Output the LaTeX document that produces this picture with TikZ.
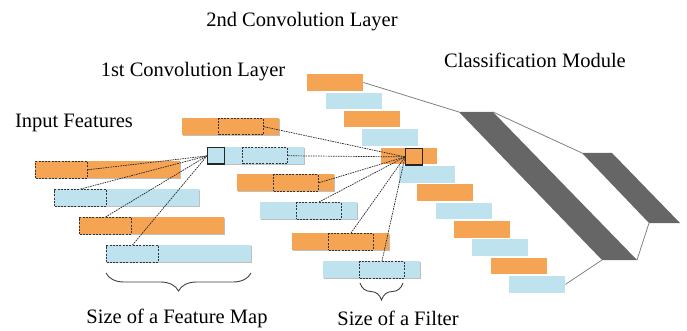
\documentclass[tikz,border=0pt]{standalone}
\usepackage{fontspec}
\setmainfont{Liberation Serif}
\usetikzlibrary{shadows,decorations.pathreplacing}
\definecolor{barorange}{HTML}{F5A454}
\definecolor{barblue}{HTML}{BEE2EE}
\definecolor{darkmod}{HTML}{666666}
\definecolor{linkgray}{HTML}{808080}
\tikzset{
  bar/.style={anchor=north west, inner sep=0pt, minimum height=16.5pt, draw=none},
  bigbar/.style={bar, minimum width=145pt},
  midbar/.style={bar, minimum width=97pt},
  smallbar/.style={bar, minimum width=56pt},
  shad/.style={drop shadow={shadow xshift=1pt, shadow yshift=-1.2pt, opacity=0.25, fill=black}},
  dbox/.style={anchor=north west, inner sep=0pt, minimum height=16.5pt, draw=black!80, line width=1pt, dash pattern=on 2pt off 1.3pt},
  sq/.style={anchor=north west, inner sep=0pt, minimum size=16.5pt, draw=black!85, line width=1.3pt},
  dline/.style={draw=black!85, line width=0.7pt, dash pattern=on 1.6pt off 0.9pt},
  gline/.style={draw=linkgray, line width=0.8pt},
  lbl/.style={font=\rmfamily\fontsize{20.5}{24}\selectfont, anchor=base, inner sep=0pt},
  brc/.style={decorate, draw=black!75, line width=0.9pt}
}
\begin{document}
\begin{tikzpicture}[x=1pt,y=-1pt]
\useasboundingbox (0,0) rectangle (687,331);
% titles
\node[lbl] (t2) at (302,27) {2nd Convolution Layer};
\node[lbl] (t1) at (193,77) {1st Convolution Layer};
\node[lbl] (tin) at (74,128) {Input Features};
\node[lbl] (tcm) at (535,68) {Classification Module};
% input features
\node[bigbar, shad, fill=barorange] (i1) at (35,161) {};
\node[bigbar, shad, fill=barblue] (i2) at (54,189) {};
\node[bigbar, shad, fill=barorange] (i3) at (79,217) {};
\node[bigbar, shad, fill=barblue] (i4) at (106,245) {};
\node[dbox, minimum width=52pt] (d1) at (35,161) {};
\node[dbox, minimum width=52pt] (d2) at (54,189) {};
\node[dbox, minimum width=52pt] (d3) at (79,217) {};
\node[dbox, minimum width=52pt] (d4) at (106,245) {};
% 1st conv layer
\node[midbar, shad, fill=barorange] (c1) at (182,118) {};
\node[midbar, shad, fill=barblue] (c2) at (207,147) {};
\node[midbar, shad, fill=barorange] (c3) at (237,174) {};
\node[midbar, shad, fill=barblue] (c4) at (260,202) {};
\node[midbar, shad, fill=barorange] (c5) at (292,233) {};
\node[midbar, shad, fill=barblue] (c6) at (323,261) {};
\node[dbox, minimum width=45pt] (e1) at (218,118) {};
\node[dbox, minimum width=45pt] (e2) at (242,147) {};
\node[dbox, minimum width=45pt] (e3) at (273,174) {};
\node[dbox, minimum width=45pt] (e4) at (296,202) {};
\node[dbox, minimum width=45pt] (e5) at (328,233) {};
\node[dbox, minimum width=45pt] (e6) at (359,261) {};
\node[sq, fill=barblue] (s1) at (207,147) {};
% 2nd conv layer
\foreach \k in {0,...,11}{
  \pgfmathsetmacro{\xx}{307+18.36*\k}
  \pgfmathsetmacro{\yy}{74+18.36*\k}
  \pgfmathtruncatemacro{\kpar}{mod(\k,2)}
  \ifnum\kpar=0
    \node[smallbar, fill=barorange] (b\k) at (\xx,\yy) {};
  \else
    \node[smallbar, fill=barblue] (b\k) at (\xx,\yy) {};
  \fi
}
\node[sq, fill=barorange] (s2) at (405,148) {};
% dashed connectors
\draw[dline] (d1.east) -- (s1.west);
\draw[dline] (d2.north) -- (s1.west);
\draw[dline] (d3.north) -- (s1.west);
\draw[dline] (d4.north) -- (s1.west);
\draw[dline] (e1.east) -- (s2.west);
\draw[dline] (e2.east) -- (s2.west);
\draw[dline] (e3.east) -- (s2.west);
\draw[dline] (e4.north) -- (s2.west);
\draw[dline] (e5.north) -- (s2.west);
\draw[dline] (e6.north) -- (s2.west);
% classification module
\coordinate (p1a) at (459,112);
\coordinate (p1b) at (493,112);
\coordinate (p1c) at (637,260);
\coordinate (p1d) at (602,260);
\coordinate (p2a) at (582,153);
\coordinate (p2b) at (612,153);
\coordinate (p2c) at (680,223);
\coordinate (p2d) at (649,223);
\fill[darkmod] (p1a) -- (p1b) -- (p1c) -- (p1d) -- cycle;
\fill[darkmod] (p2a) -- (p2b) -- (p2c) -- (p2d) -- cycle;
\draw[gline] (b0.east) -- (p1a);
\draw[gline] (b11.east) -- (p1d);
\draw[gline] (p1b) -- (p2a);
\draw[gline] (p1c) -- (p2d);
% braces
\draw[brc, decoration={brace, amplitude=18pt}] (251,273) -- (106,273);
\draw[brc, decoration={brace, amplitude=17pt}] (403,283) -- (360,283);
\node[lbl] (sfm) at (177,323) {Size of a Feature Map};
\node[lbl] (sf) at (398,325) {Size of a Filter};
\end{tikzpicture}
\end{document}
